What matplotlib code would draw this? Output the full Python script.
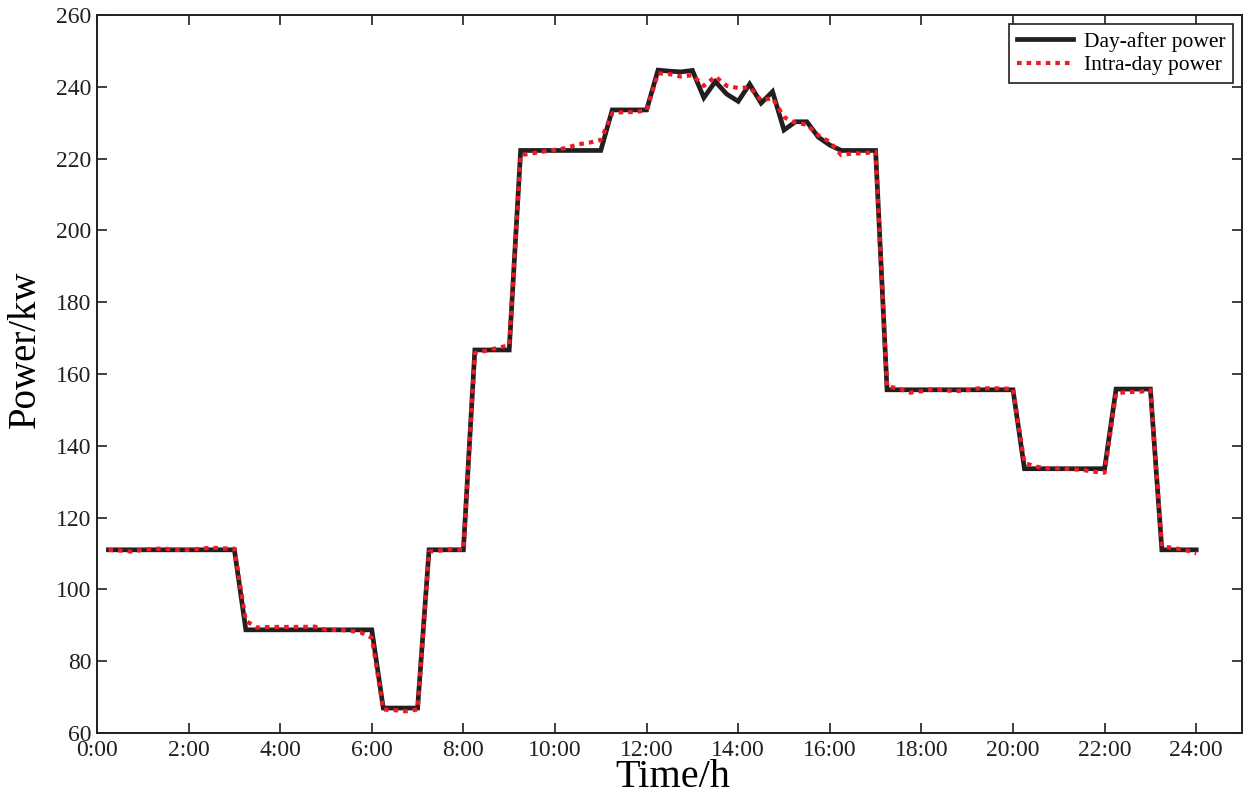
import numpy as np
import matplotlib
matplotlib.use("Agg")
import matplotlib.pyplot as plt

plt.rcParams['font.family'] = ['Liberation Serif', 'DejaVu Serif']

# 15-minute slots, 0:15 .. 24:00 (hours)
hours = np.arange(1, 97) / 4.0

day_after = [
    111.0, 111.0, 111.0, 111.0, 111.0, 111.0, 111.0, 111.0, 111.0, 111.0, 111.0, 111.0,
    88.7, 88.7, 88.7, 88.7, 88.7, 88.7, 88.7, 88.7, 88.7, 88.7, 88.7, 88.7,
    66.9, 66.9, 66.9, 66.9,
    111.0, 111.0, 111.0, 111.0,
    166.7, 166.7, 166.7, 166.7,
    222.3, 222.3, 222.3, 222.3, 222.3, 222.3, 222.3, 222.3,
    233.6, 233.6, 233.6, 233.6,
    244.7, 244.4, 244.2, 244.6,
    237.0, 241.5, 238.0, 236.0,
    240.8, 235.5, 238.7, 228.0,
    230.3, 230.3, 226.0, 223.8,
    222.3, 222.3, 222.3, 222.3,
    155.6, 155.6, 155.6, 155.6, 155.6, 155.6, 155.6, 155.6, 155.6, 155.6, 155.6, 155.6,
    133.6, 133.6, 133.6, 133.6, 133.6, 133.6, 133.6, 133.6,
    155.8, 155.8, 155.8, 155.8,
    111.0, 111.0, 111.0, 111.0,
]

intra_day = [
    111.0, 110.8, 110.5, 111.0, 111.3, 111.3, 111.0, 111.0, 111.3, 111.6, 111.4, 111.3,
    91.2, 89.3, 89.5, 89.5, 89.5, 89.5, 89.6, 88.7, 88.7, 88.5, 88.0, 86.5,
    66.5, 66.3, 66.0, 66.5,
    110.5, 110.8, 111.2, 111.0,
    165.8, 166.5, 167.3, 168.0,
    221.0, 221.5, 222.0, 222.5, 223.0, 224.0, 224.5, 225.2,
    232.7, 233.0, 233.0, 233.5,
    243.8, 243.6, 242.9, 243.3,
    240.3, 242.9, 240.3, 239.7,
    239.9, 236.3, 236.9, 231.6,
    230.0, 229.5, 226.5, 224.7,
    221.0, 221.5, 221.5, 222.0,
    156.5, 156.0, 154.8, 155.2, 155.8, 155.5, 155.2, 155.5, 156.0, 156.0, 156.0, 155.8,
    135.2, 134.2, 133.7, 133.7, 133.5, 133.3, 132.8, 132.5,
    154.6, 155.0, 155.0, 155.5,
    112.0, 111.5, 111.0, 110.0,
]

tick_hours = list(range(0, 25, 2))
tick_labels = ['%d:00' % h for h in tick_hours]

fig = plt.figure(figsize=(12.5, 8), dpi=100)
ax = fig.add_axes([0.0776, 0.084, 0.916, 0.897])

ax.plot(hours, day_after, color='#231f20', lw=3.4, solid_joinstyle='miter',
        label='Day-after power')
ax.plot(hours, intra_day, color='#ed1c24', lw=3.0, linestyle=(0, (1.1, 1.2)),
        dash_capstyle='butt', label='Intra-day power')

ax.set_xlim(0, 25)
ax.set_ylim(60, 260)
ax.set_xticks(tick_hours)
ax.set_xticklabels(tick_labels)
ax.set_yticks(range(60, 261, 20))

ax.tick_params(direction='in', length=7, width=1.2, top=True, right=True,
               labelsize=17, colors='#231f20')
ax.tick_params(axis='x', pad=5)
ax.tick_params(axis='y', pad=4)
for s in ax.spines.values():
    s.set_linewidth(1.4)
    s.set_color('#231f20')

ax.set_xlabel('Time/h', fontsize=29)
ax.set_ylabel('Power/kw', fontsize=28)
ax.xaxis.set_label_coords(0.503, -0.036)
ax.yaxis.set_label_coords(-0.046, 0.535)

leg = ax.legend(loc='upper right', fontsize=15.5, handlelength=2.6,
                fancybox=False, framealpha=1, edgecolor='#231f20',
                borderpad=0.35, labelspacing=0.15, handletextpad=0.5,
                borderaxespad=0, bbox_to_anchor=(0.992, 0.9875))
leg.get_frame().set_linewidth(1.2)

fig.savefig('out.png', dpi=100)
